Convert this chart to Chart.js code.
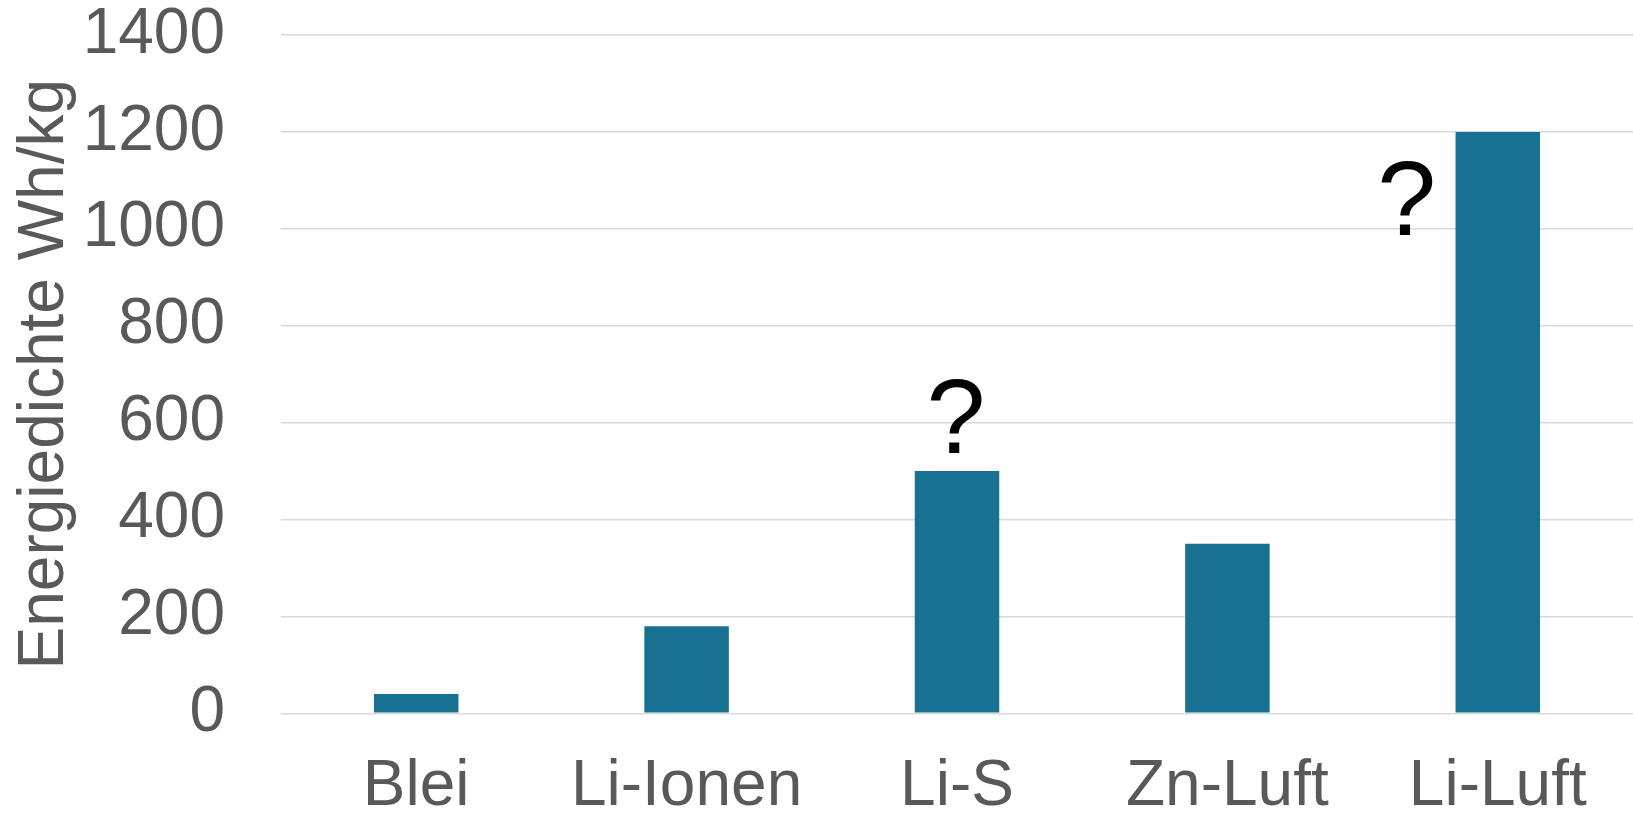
<!DOCTYPE html>
<html lang="de">
<head>
<meta charset="utf-8">
<title>Energiedichte von Batterietypen</title>
<script src="https://cdn.jsdelivr.net/npm/chart.js@4.4.1/dist/chart.umd.min.js"></script>
<style>
  html, body { margin: 0; padding: 0; background: #ffffff; }
  #wrap { position: relative; width: 1633px; height: 814px; }
</style>
</head>
<body>
<div id="wrap"><canvas id="chart" width="1633" height="814"></canvas></div>
<script>
// Batterietypen und ihre spezifische Energie (Wh/kg)
const categories = ['Blei', 'Li-Ionen', 'Li-S', 'Zn-Luft', 'Li-Luft'];
const energyDensity = [40, 180, 500, 350, 1200];
const yTicks = [0, 200, 400, 600, 800, 1000, 1200, 1400];
// Kategorien, deren Wert noch unsicher ist (mit "?" markiert)
const uncertain = ['Li-S', 'Li-Luft'];

const FONT = '"Liberation Sans", Arial, Helvetica, sans-serif';
const GREY = '#595959';

// Zeichnet ein Fragezeichen an den unsicheren Balken
const questionMarks = {
  id: 'questionMarks',
  afterDatasetsDraw(chart) {
    const ctx = chart.ctx;
    const meta = chart.getDatasetMeta(0);
    ctx.save();
    ctx.font = '106px ' + FONT;
    ctx.fillStyle = '#000000';
    ctx.textAlign = 'center';
    ctx.textBaseline = 'alphabetic';
    uncertain.forEach(name => {
      const i = categories.indexOf(name);
      const bar = meta.data[i];
      if (i === categories.length - 1) {
        // letzter Balken: Zeichen links neben dem Balken
        ctx.fillText('?', bar.x - 91, bar.y + 103);
      } else {
        ctx.fillText('?', bar.x - 1, bar.y - 18);
      }
    });
    ctx.restore();
  }
};

new Chart(document.getElementById('chart'), {
  type: 'bar',
  data: {
    labels: categories,
    datasets: [{
      data: energyDensity,
      backgroundColor: '#187191',
      borderWidth: 0,
      categoryPercentage: 1.0,
      barPercentage: 0.3125
    }]
  },
  options: {
    responsive: false,
    animation: false,
    devicePixelRatio: 1,
    layout: { padding: { top: 35, right: 0, left: 0, bottom: 0 } },
    plugins: {
      legend: { display: false },
      tooltip: { enabled: false }
    },
    scales: {
      x: {
        grid: { display: false, drawTicks: false },
        border: { display: false },
        ticks: {
          color: GREY,
          font: { family: FONT, size: 64, lineHeight: 1.2 },
          padding: 36,
          maxRotation: 0,
          autoSkip: false
        },
        afterFit(scale) { scale.height = 100.6; }
      },
      y: {
        min: 0,
        max: 1400,
        afterBuildTicks(scale) { scale.ticks = yTicks.map(v => ({ value: v })); },
        grid: {
          color: '#d9d9d9',
          lineWidth: 1.6,
          drawTicks: true,
          tickLength: 56,
          tickColor: 'rgba(0,0,0,0)'
        },
        border: { display: false },
        ticks: {
          color: GREY,
          font: { family: FONT, size: 64, lineHeight: 1.0 },
          padding: 0,
          callback: v => String(v)
        },
        title: {
          display: true,
          text: 'Energiedichte Wh/kg',
          color: GREY,
          font: { family: FONT, size: 64, lineHeight: 1.2 },
          padding: { top: 7, bottom: 0 }
        },
        afterFit(scale) { scale.width = 281; }
      }
    }
  },
  plugins: [questionMarks]
});
</script>
</body>
</html>
